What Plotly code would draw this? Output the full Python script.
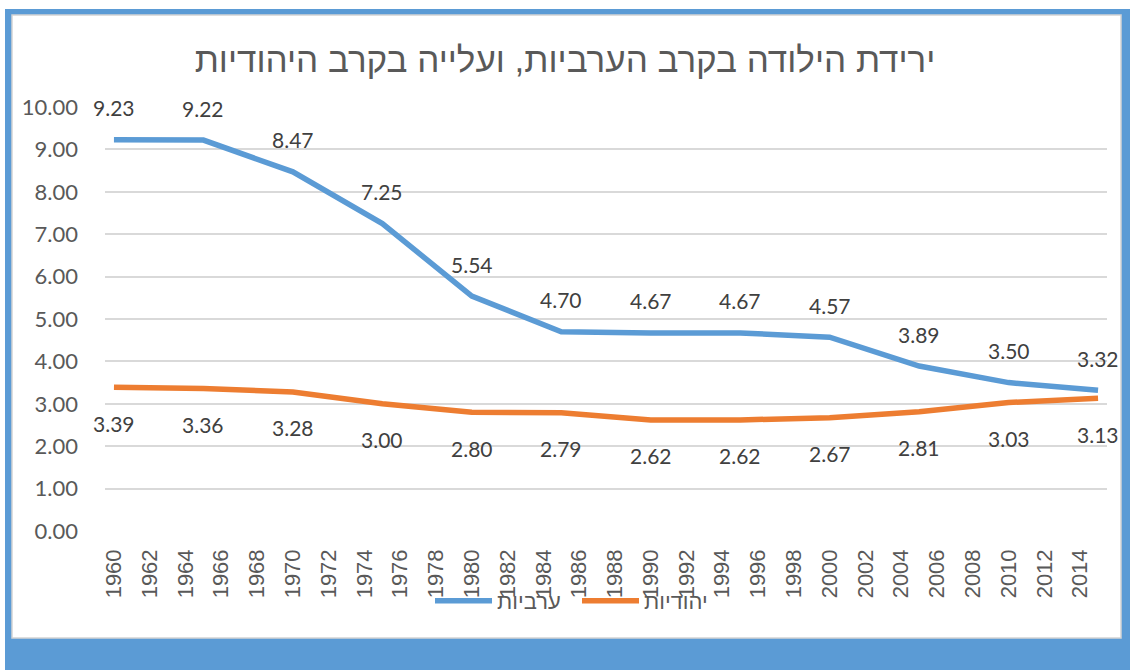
import plotly.graph_objects as go

years = [1960, 1965, 1970, 1975, 1980, 1985, 1990, 1995, 2000, 2005, 2010, 2015]
arab = [9.23, 9.22, 8.47, 7.25, 5.54, 4.70, 4.67, 4.67, 4.57, 3.89, 3.50, 3.32]
jewish = [3.39, 3.36, 3.28, 3.00, 2.80, 2.79, 2.62, 2.62, 2.67, 2.81, 3.03, 3.13]
series_names = ["ערביות", "יהודיות"]
title_text = "ירידת הילודה בקרב הערביות, ועלייה בקרב היהודיות"
tick_years = list(range(1960, 2015, 2))

BLUE = "#5B9BD5"
ORANGE = "#ED7D31"
GREY = "#595959"

W, H = 1130, 670
L, R, T, B = 105, 23, 107, 139
pw, ph = W - L - R, H - T - B

def px_x(p):
    return (p - L) / pw

def px_y(p):
    return (H - B - p) / ph

fig = go.Figure()
fig.add_trace(go.Scatter(x=years, y=arab, name=series_names[0], mode="lines",
                         legendwidth=75,
                         line=dict(color=BLUE, width=5.5)))
fig.add_trace(go.Scatter(x=years, y=jewish, name=series_names[1], mode="lines",
                         line=dict(color=ORANGE, width=5.5)))

ann = []
for x, y in zip(years, arab):
    ann.append(dict(x=x, y=y, text=f"{y:.2f}", showarrow=False, yshift=32,
                    font=dict(family="Lato", size=21, color="#404040")))
for x, y in zip(years, jewish):
    ann.append(dict(x=x, y=y, text=f"{y:.2f}", showarrow=False, yshift=-36,
                    font=dict(family="Lato", size=21, color="#404040")))

shapes = [
    dict(type="rect", xref="paper", yref="paper", layer="below",
         x0=px_x(5), x1=px_x(1140), y0=px_y(680), y1=px_y(9),
         fillcolor=BLUE, line=dict(width=0)),
    dict(type="rect", xref="paper", yref="paper", layer="below",
         x0=px_x(12), x1=px_x(1121), y0=px_y(638), y1=px_y(15),
         fillcolor="white", line=dict(color="#d4d4d4", width=1.5)),
]

fig.update_layout(
    width=W, height=H,
    margin=dict(l=L, r=R, t=T, b=B),
    paper_bgcolor="white",
    plot_bgcolor="rgba(0,0,0,0)",
    title=dict(text=title_text, x=0.5, xanchor="center", y=1 - 60 / H, yanchor="middle",
               yref="container",
               font=dict(family="Liberation Sans", size=35, color=GREY)),
    xaxis=dict(range=[1959.5, 2015.5], tickvals=tick_years, tickangle=-90,
               showgrid=False, zeroline=False, showline=False,
               ticks="", ticklabelstandoff=13,
               tickfont=dict(family="Liberation Sans", size=22, color=GREY)),
    yaxis=dict(range=[0, 10], dtick=1, tickformat=".2f",
               showgrid=True, gridcolor="#d9d9d9", gridwidth=1.5,
               zeroline=False, showline=False, ticks="", ticklabelstandoff=26,
               tickfont=dict(family="Lato", size=22, color=GREY)),
    legend=dict(orientation="h", x=px_x(430), xanchor="left", y=px_y(601), yanchor="middle",
                bgcolor="rgba(0,0,0,0)", itemwidth=57,
                font=dict(family="Liberation Sans", size=22, color=GREY)),
    annotations=ann,
    shapes=shapes,
)

fig.write_html("out.html", config={"displayModeBar": False},
               post_script="document.body.style.margin='0';")
